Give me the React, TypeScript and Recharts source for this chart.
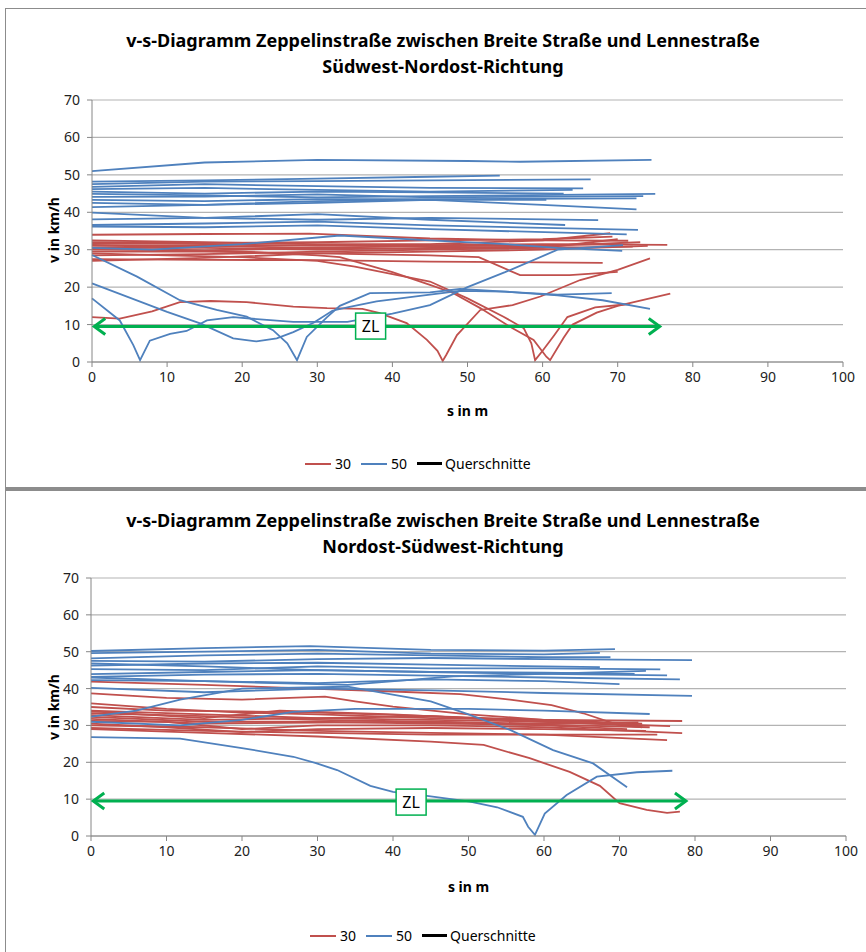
import React from 'react'
import { LineChart, Line, XAxis, YAxis, CartesianGrid, ReferenceDot } from 'recharts'

type Pt = [number, number]

const X_TICKS = [0, 10, 20, 30, 40, 50, 60, 70, 80, 90, 100]
const Y_TICKS = [0, 10, 20, 30, 40, 50, 60, 70]

const TITLE_1 = 'v-s-Diagramm Zeppelinstraße zwischen Breite Straße und Lennestraße'
const SW_TITLE_2 = 'Südwest-Nordost-Richtung'
const NO_TITLE_2 = 'Nordost-Südwest-Richtung'

// Südwest-Nordost, 30 km/h runs: [s in m, v in km/h]
const SW_30: Pt[][] = [
  [[0, 34], [15, 34.2], [29, 34.3], [45, 33], [60, 32.5], [71.4, 32.4]],
  [[0, 32.5], [15, 32], [30, 31.5], [45, 31.5], [60, 32.5], [69, 34.4]],
  [[0, 32], [15, 31.8], [30, 32], [45, 32.5], [60, 32.8], [69.3, 33.5]],
  [[0, 31.8], [15, 31.5], [30, 31], [45, 31.2], [60, 31.5], [76.6, 31.3]],
  [[0, 31.3], [15, 31], [30, 30.5], [45, 31], [60, 31.3], [70, 31.5]],
  [[0, 31], [15, 30.8], [30, 31.3], [45, 30.8], [60, 30.5], [72, 30.8]],
  [[0, 30.5], [15, 30.5], [30, 30], [45, 30.5], [60, 30.8], [65, 30.5]],
  [[0, 30], [15, 29.8], [30, 30.5], [45, 30.2], [60, 31], [73, 32]],
  [[0, 30.2], [10, 30], [20, 29.5], [30, 28.5], [33, 28], [40, 24], [45, 20.6], [48, 18.5], [51.7, 14.4], [56, 9], [58.8, 5.9], [60.5, 1.4], [61, 0.5], [62.8, 6.5], [64, 10], [67.2, 13.2], [70, 15], [77, 18.3]],
  [[0, 29], [10, 28.5], [20, 28], [30, 27], [35, 25.5], [40, 23.5], [45, 21.5], [50, 17], [54.8, 12.1], [57.5, 9], [58.5, 5], [59, 0.5], [60, 3], [61.5, 7], [63.3, 12], [67, 14.6], [71.6, 15.5]],
  [[0, 29.5], [15, 29.5], [30, 29], [45, 28.5], [51.5, 28], [57, 23.2], [63.6, 23.2], [70, 24.1]],
  [[0, 27.5], [15, 27.3], [30, 27.2], [45, 26.8], [68, 26.5]],
  [[0, 27], [15, 27.8], [30, 29], [45, 29.5], [60, 30], [74, 31]],
  [[0, 28.5], [15, 28.8], [30, 29.5], [45, 30], [60, 30.5], [70, 32.8]],
  [[0, 12], [3.7, 11.6], [8, 13.5], [11.7, 16], [15.8, 16.3], [20.6, 16], [26.8, 14.8], [31.3, 14.4], [36, 14.2], [38.2, 13.1], [41.9, 10.4], [44.6, 5.9], [46, 3], [46.7, 0.3], [47.2, 2], [48.6, 7.2], [51.7, 13.9], [56, 15.2], [59.7, 17.5], [65, 21.9], [70, 24.6], [74.3, 27.7]],
]

// Südwest-Nordost, 50 km/h runs
const SW_50: Pt[][] = [
  [[0, 51], [15, 53.3], [30, 54], [50, 53.7], [57, 53.5], [74.5, 54]],
  [[0, 48.2], [15, 48.5], [30, 49], [45, 49.5], [54.3, 49.8]],
  [[0, 47.5], [15, 48.2], [30, 48.3], [45, 48.5], [66.4, 48.8]],
  [[0, 46.8], [15, 47.5], [30, 47], [45, 46.5], [65.4, 46.4]],
  [[0, 46.2], [15, 46.5], [30, 46], [45, 45.5], [64, 46]],
  [[0, 45.5], [15, 45], [30, 45.5], [45, 45.3], [62.8, 45]],
  [[0, 44.9], [15, 44.5], [30, 44], [45, 44.3], [75, 44.9]],
  [[0, 44.1], [15, 44.2], [30, 44.8], [45, 44], [73.4, 44.3]],
  [[0, 43.3], [15, 43], [30, 43.5], [45, 43.5], [72.5, 43.7]],
  [[0, 42.5], [15, 42], [30, 42.5], [45, 43.3], [60.5, 43.3]],
  [[0, 41.4], [15, 42], [30, 43], [45, 43.3], [60, 42], [72.5, 40.8]],
  [[0, 39.9], [15, 38.5], [30, 38], [45, 38.5], [67.4, 37.9]],
  [[0, 38.1], [15, 38.5], [30, 39.5], [45, 38], [63, 36.6]],
  [[0, 36.6], [15, 37], [30, 37.5], [45, 36.5], [72.7, 35.3]],
  [[0, 36.2], [15, 36], [30, 36.5], [45, 35.5], [71.2, 34.1]],
  [[0, 30.5], [8, 30], [20, 31.5], [33, 33.8], [45, 32.5], [55, 31.5], [62, 30.5], [70.6, 29.7]],
  [[0, 28.6], [6, 22.8], [11.7, 16.5], [16.6, 13.9], [20.6, 12.1], [24.1, 8.5], [26, 5], [27.3, 0.5], [28.6, 6.7], [31.3, 12], [33, 15], [37, 18.4], [45, 18.6], [49, 19.5], [55, 18.8], [62, 17.8], [68, 16.5], [74.3, 14.2]],
  [[0, 21], [10, 13.4], [14.4, 10.3], [18.8, 6.3], [21.9, 5.5], [24.6, 6.3], [26.8, 8], [29.5, 10.5], [32, 13.7], [34.3, 14.7], [37.9, 16.2], [45, 18], [49, 19], [55, 18.8], [62, 18], [69.2, 18.4]],
  [[0, 17], [3.7, 11.1], [5.5, 4.5], [6.4, 0.5], [7.7, 5.7], [10.4, 7.5], [12.6, 8.3], [15.3, 11.1], [18.8, 12], [22.4, 11.4], [26.8, 10.7], [34, 10.7], [40, 12.9], [45, 15.2], [50, 20], [55, 24], [62, 30], [70.7, 31.2]],
]

// Nordost-Südwest, 30 km/h runs
const NO_30: Pt[][] = [
  [[0, 41.9], [15, 41], [29, 40], [40, 39.2], [48.9, 38.5], [55.5, 37], [61, 35.5], [65.2, 33.3], [69.7, 30.2], [73, 29.5]],
  [[0, 38.7], [10, 37.5], [20, 37], [31, 37.8], [35, 36.5], [40, 35.1], [50, 33], [60, 31.5], [73, 30.5]],
  [[0, 36], [10, 34.5], [20, 33.5], [30, 33], [45, 32], [60, 31.5], [78.3, 31.2]],
  [[0, 35], [10, 34], [20, 33.8], [30, 33.5], [45, 32.5], [60, 31], [72, 30]],
  [[0, 34], [15, 33], [30, 32], [45, 31.5], [60, 31], [76.7, 29.8]],
  [[0, 33.3], [15, 32.5], [30, 31.5], [45, 31], [60, 30.5], [72.5, 30.8]],
  [[0, 32.8], [15, 31.5], [30, 32], [45, 32.5], [60, 31.5], [73, 30]],
  [[0, 32.3], [15, 31], [30, 31], [45, 30.5], [60, 30.2], [74, 29.5]],
  [[0, 31.8], [15, 30.5], [30, 30.8], [45, 31], [60, 30], [71, 29]],
  [[0, 31.2], [10, 31], [20, 29], [30, 30], [45, 30], [60, 29.5], [78.3, 27.9]],
  [[0, 30.5], [10, 29.5], [20, 28.2], [30, 29], [45, 29.3], [60, 29], [73.5, 28.5]],
  [[0, 30], [15, 29.5], [30, 28.5], [45, 28], [60, 27.5], [76.3, 26]],
  [[0, 29.3], [15, 28.5], [30, 28], [45, 27.5], [60, 27.5], [75, 27.5]],
  [[0, 33.8], [15, 32], [25, 34], [40, 33], [55, 31.5], [70, 30.5]],
  [[0, 29], [15, 28], [30, 27], [45, 25.6], [52, 24.7], [58.1, 21.1], [63.4, 17.4], [67.4, 13.6], [70, 8.9], [73.6, 7.1], [76.3, 6.3], [78, 6.6]],
]

// Nordost-Südwest, 50 km/h runs
const NO_50: Pt[][] = [
  [[0, 50.2], [15, 51], [29, 51.5], [45, 50.5], [60, 50.3], [69.4, 50.7]],
  [[0, 49.6], [15, 50], [30, 50.5], [45, 49.5], [60, 49.3], [67.4, 49.7]],
  [[0, 48.2], [15, 49], [30, 49.5], [45, 49], [60, 48.5], [68.8, 48.5]],
  [[0, 47.5], [15, 47.3], [30, 48], [45, 48.3], [60, 48], [79.6, 47.7]],
  [[0, 46.8], [15, 46], [30, 45], [45, 44.5], [60, 44.3], [72, 44]],
  [[0, 46.2], [15, 46.8], [30, 47], [45, 46.5], [60, 46], [67.4, 45.8]],
  [[0, 45.3], [15, 45], [30, 46], [45, 45.5], [60, 45.5], [75.4, 45.2]],
  [[0, 43.9], [15, 44.5], [30, 45], [45, 44.5], [60, 44], [76.3, 43.6]],
  [[0, 43.2], [15, 43.8], [30, 44], [45, 43.5], [60, 43], [78, 42.5]],
  [[0, 43], [15, 42], [34, 41], [48, 43.3], [60, 44], [73.5, 44.8]],
  [[0, 42.3], [15, 42], [30, 41.5], [45, 42.5], [60, 42], [70, 41.2]],
  [[0, 40.2], [15, 39], [30, 40], [45, 39.5], [60, 38.8], [79.6, 38]],
  [[0, 32.4], [6, 34], [11.8, 37], [20, 40], [34, 40.5], [45, 36.5], [50, 33], [55.5, 28.8], [61.2, 23.3], [66.5, 19.7], [71, 13.2]],
  [[0, 31], [11.8, 30], [20, 31.5], [26.8, 33.7], [35, 34.5], [50, 34.5], [60, 34], [74, 33.1]],
  [[0, 26.8], [11.8, 26.4], [20.2, 23.8], [26.8, 21.5], [29.8, 19.8], [32.6, 17.9], [37, 13.6], [40, 12], [44.5, 10.9], [50.2, 9.3], [53.8, 7.8], [57.2, 5.2], [57.9, 2.5], [58.8, 0.3], [60.1, 6.1], [63, 11.1], [67, 16.1], [72.3, 17.3], [77, 17.7]],
]

// Zeitlücken-Pfeil (ZL)
const SW_ZL: Pt[] = [[0.3, 9.5], [75.6, 9.5]]
const NO_ZL: Pt[] = [[0.3, 9.5], [78.8, 9.5]]
const SW_ZL_LABEL: Pt = [37.1, 9.6]
const NO_ZL_LABEL: Pt = [42.4, 9.2]

const RED = '#c0504d'
const BLUE = '#4f81bd'
const GREEN = '#00b050'
const FONT = "'Liberation Sans Narrow', 'Arial Narrow', 'Noto Sans', sans-serif"

const toRows = (pts: Pt[]) => pts.map(([s, v]) => ({ s, v }))

function arrowHead(props: any) {
  const { cx, cy, index } = props
  const d = index === 0
    ? `M${cx + 11},${cy - 8} L${cx},${cy} L${cx + 11},${cy + 8}`
    : `M${cx - 11},${cy - 8} L${cx},${cy} L${cx - 11},${cy + 8}`
  return <path key={`ah-${index}`} d={d} fill="none" stroke={GREEN} strokeWidth={3} />
}

function zlBox(props: any) {
  const { cx, cy } = props
  return (
    <g>
      <rect x={cx - 15} y={cy - 13} width={30} height={26} fill="#fff" stroke={GREEN} strokeWidth={1.5} />
      <text x={cx} y={cy + 6} textAnchor="middle" fontSize={16} fontFamily={FONT} fill="#000">ZL</text>
    </g>
  )
}

interface PanelProps {
  top: number
  height: number
  title2: string
  red: Pt[][]
  blue: Pt[][]
  zl: Pt[]
  zlLabel: Pt
  margin: { top: number; right: number; bottom: number; left: number }
  titleY: number
  xLabelY: number
  yLabelY: number
  legendY: number
  legendX: number
}

function Panel(p: PanelProps) {
  const plotLeft = p.margin.left + 30
  const plotRight = 866 - p.margin.right
  return (
    <div style={{ position: 'absolute', left: 0, top: p.top, width: 866, height: p.height }}>
      <div
        style={{
          position: 'absolute', left: 0, top: p.titleY, width: 886, textAlign: 'center',
          fontFamily: FONT, fontWeight: 'bold', fontSize: 18, lineHeight: '26px', color: '#000',
        }}
      >
        <div>{TITLE_1}</div>
        <div>{p.title2}</div>
      </div>
      <LineChart width={866} height={p.height} margin={p.margin}>
        <CartesianGrid vertical={false} stroke="#b3b3b3" strokeWidth={1.2} />
        <XAxis
          type="number"
          dataKey="s"
          domain={[0, 100]}
          ticks={X_TICKS}
          interval={0}
          height={30}
          stroke="#868686"
          tickSize={5}
          tickMargin={5}
          tick={{ fill: '#222', fontSize: 14, fontFamily: FONT }}
        />
        <YAxis
          type="number"
          domain={[0, 70]}
          ticks={Y_TICKS}
          interval={0}
          width={30}
          stroke="#868686"
          tickSize={5}
          tickMargin={7}
          tick={{ fill: '#222', fontSize: 14, fontFamily: FONT }}
        />
        {p.red.map((pts, i) => (
          <Line key={`r${i}`} data={toRows(pts)} dataKey="v" type="linear" stroke={RED}
            strokeWidth={1.8} dot={false} activeDot={false} isAnimationActive={false} />
        ))}
        {p.blue.map((pts, i) => (
          <Line key={`b${i}`} data={toRows(pts)} dataKey="v" type="linear" stroke={BLUE}
            strokeWidth={1.8} dot={false} activeDot={false} isAnimationActive={false} />
        ))}
        <Line data={toRows(p.zl)} dataKey="v" type="linear" stroke={GREEN} strokeWidth={3}
          dot={arrowHead} activeDot={false} isAnimationActive={false} />
        <ReferenceDot x={p.zlLabel[0]} y={p.zlLabel[1]} r={0} shape={zlBox} />
      </LineChart>
      <div
        style={{
          position: 'absolute', left: 0, top: p.xLabelY, width: plotLeft + plotRight,
          textAlign: 'center', fontFamily: FONT, fontWeight: 'bold', fontSize: 14, color: '#000',
        }}
      >
        s in m
      </div>
      <div
        style={{
          position: 'absolute', left: 53, top: p.yLabelY, transform: 'translate(-50%, -50%) rotate(-90deg)',
          fontFamily: FONT, fontWeight: 'bold', fontSize: 14, color: '#000', whiteSpace: 'nowrap',
        }}
      >
        v in km/h
      </div>
      <div
        style={{
          position: 'absolute', left: p.legendX, top: p.legendY, display: 'flex', alignItems: 'center',
          fontFamily: FONT, fontSize: 14, color: '#000', whiteSpace: 'nowrap',
        }}
      >
        <span style={{ display: 'inline-block', width: 26, height: 2, background: RED, marginRight: 4 }} />
        <span style={{ marginRight: 10 }}>30</span>
        <span style={{ display: 'inline-block', width: 26, height: 2, background: BLUE, marginRight: 4 }} />
        <span style={{ marginRight: 10 }}>50</span>
        <span style={{ display: 'inline-block', width: 25, height: 3, background: '#000', marginRight: 3 }} />
        <span>Querschnitte</span>
      </div>
    </div>
  )
}

export default function App() {
  return (
    <div style={{ position: 'absolute', left: 0, top: 0, width: 866, height: 952, background: '#fff', overflow: 'hidden' }}>
      <div style={{ position: 'absolute', left: 5, top: 8, width: 900, height: 478, border: '1px solid #8c8c8c', borderBottom: '2px solid #8c8c8c' }} />
      <div style={{ position: 'absolute', left: 5, top: 489, width: 900, height: 480, border: '1px solid #8c8c8c', borderTop: '2px solid #8c8c8c' }} />
      <Panel
        top={0}
        height={487}
        title2={SW_TITLE_2}
        red={SW_30}
        blue={SW_50}
        zl={SW_ZL}
        zlLabel={SW_ZL_LABEL}
        margin={{ top: 100, right: 23, bottom: 95, left: 62 }}
        titleY={27}
        xLabelY={401}
        yLabelY={230}
        legendY={454}
        legendX={305}
      />
      <Panel
        top={490}
        height={462}
        title2={NO_TITLE_2}
        red={NO_30}
        blue={NO_50}
        zl={NO_ZL}
        zlLabel={NO_ZL_LABEL}
        margin={{ top: 88, right: 20, bottom: 86, left: 61 }}
        titleY={17}
        xLabelY={387}
        yLabelY={217}
        legendY={436}
        legendX={310}
      />
    </div>
  )
}
